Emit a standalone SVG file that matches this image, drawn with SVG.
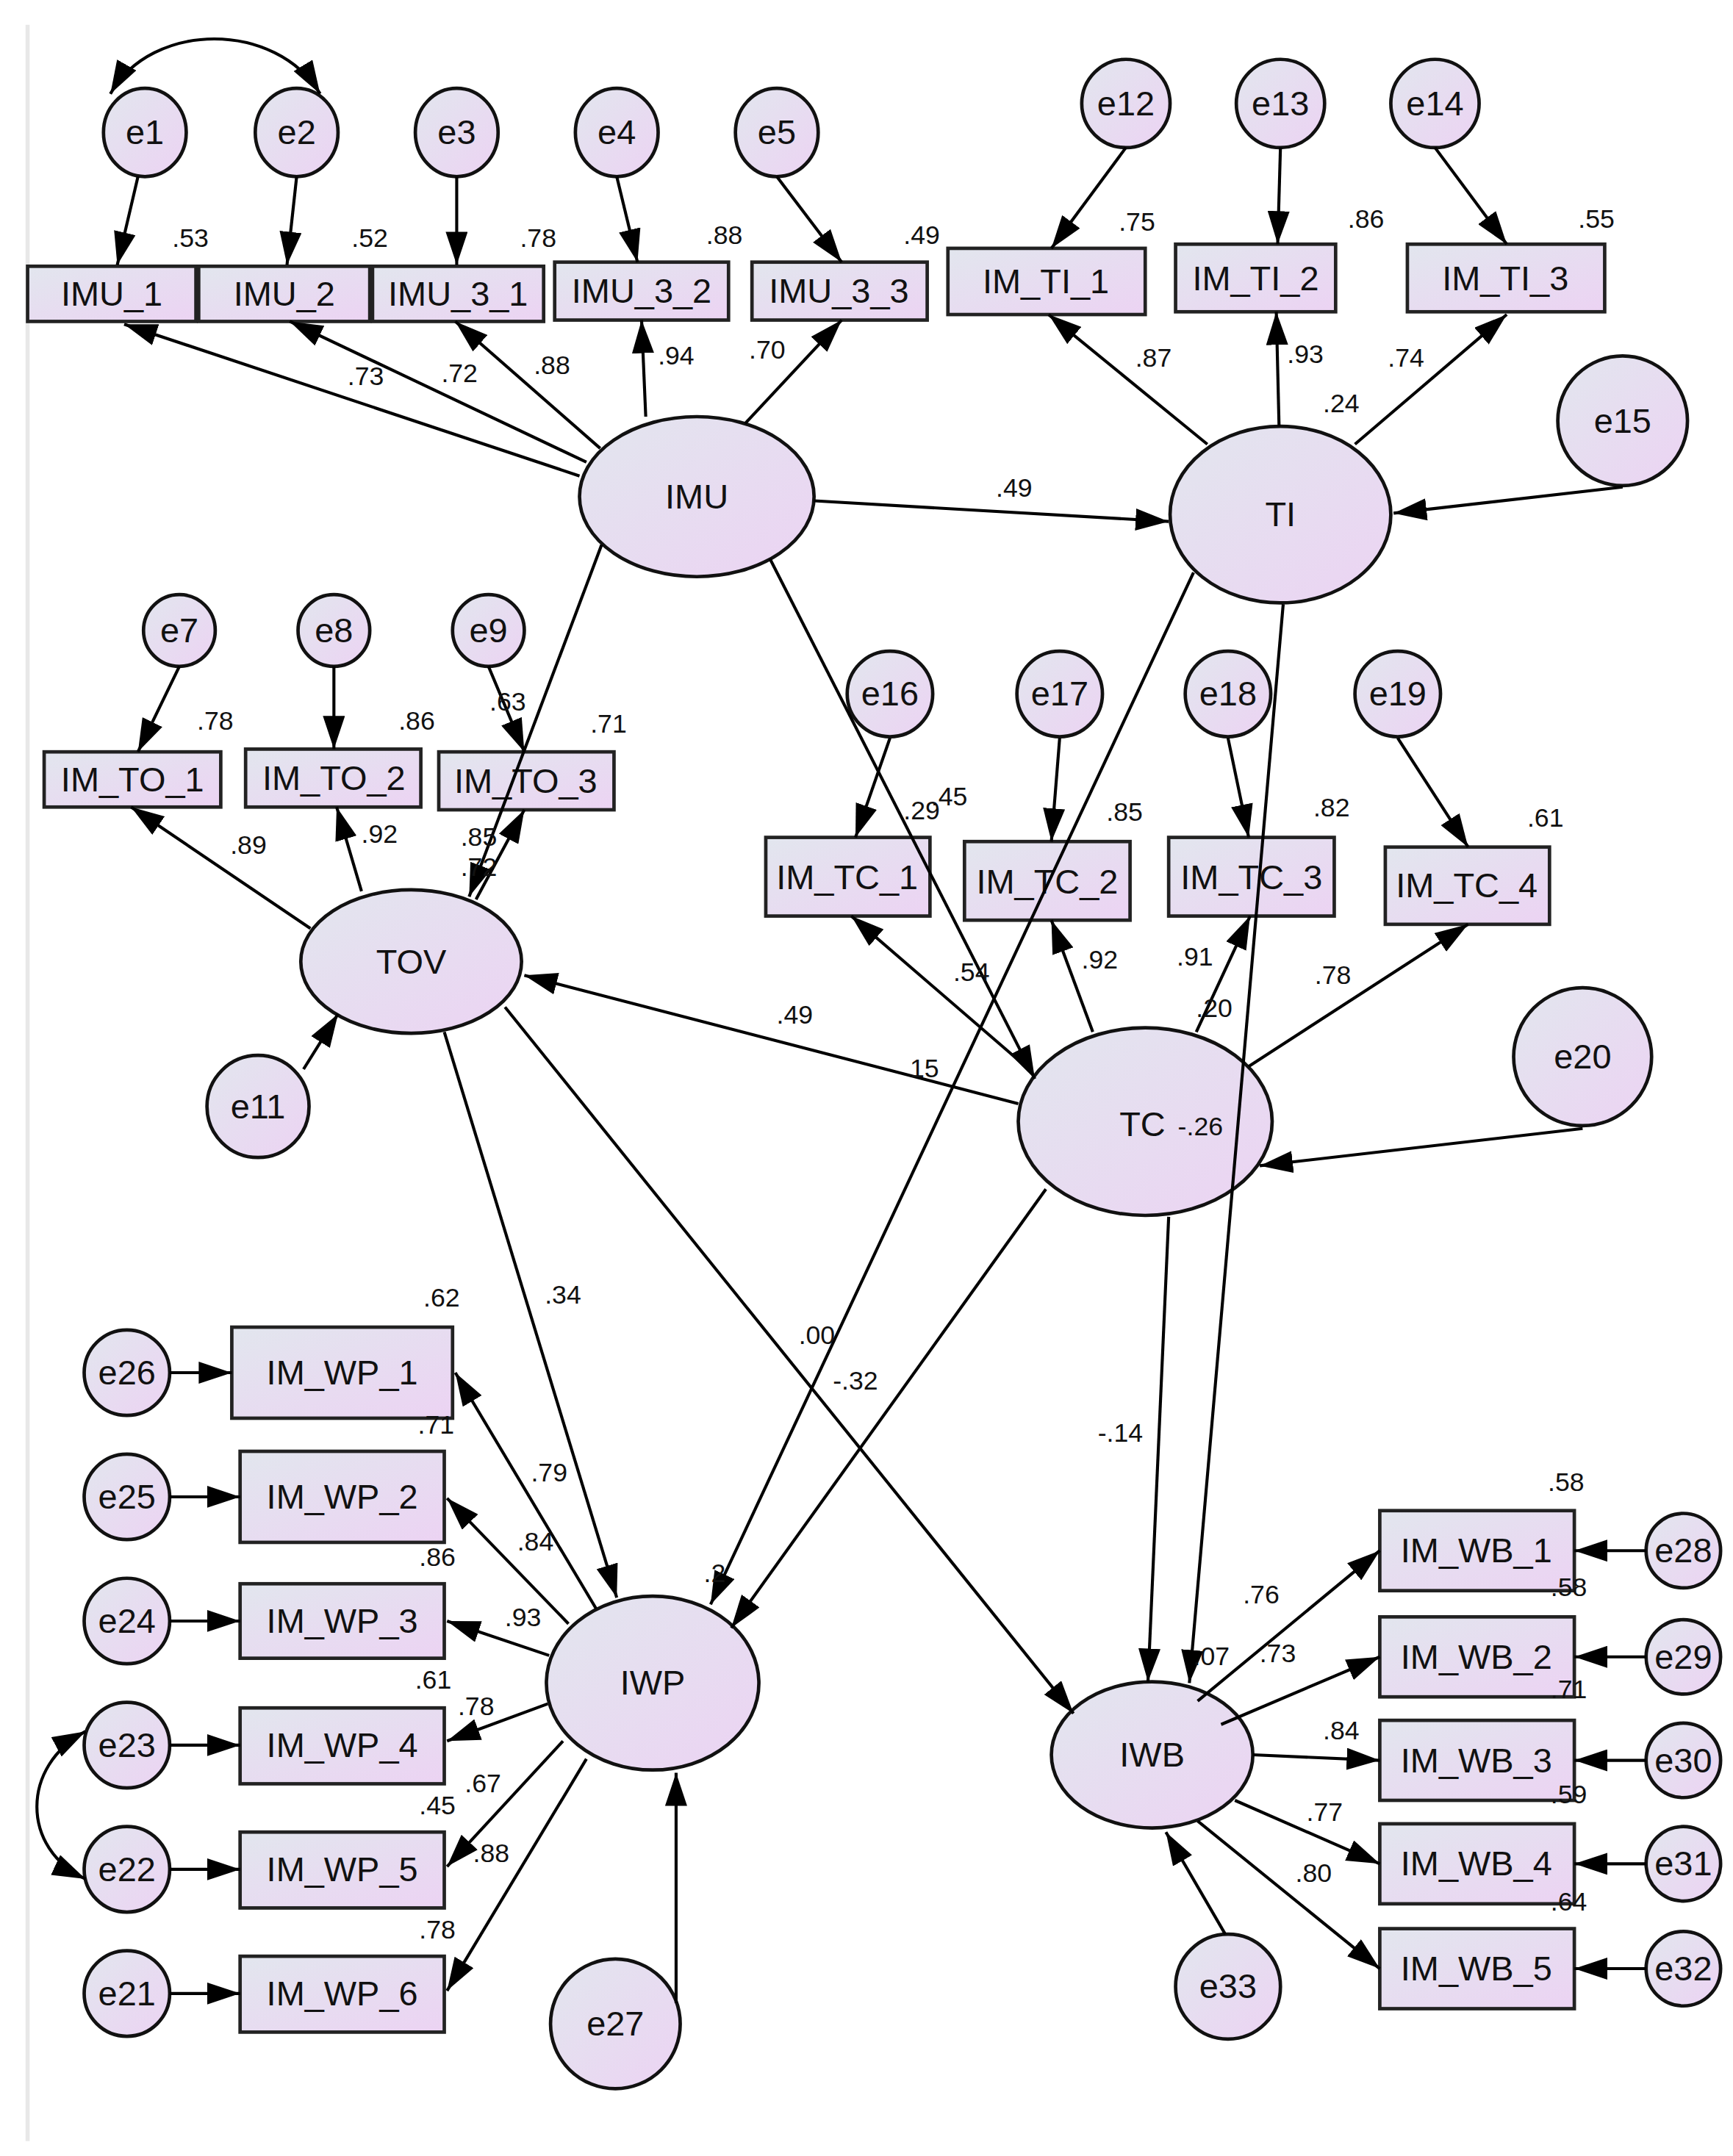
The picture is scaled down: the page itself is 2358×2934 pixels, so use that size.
<svg xmlns="http://www.w3.org/2000/svg" width="2358" height="2934" viewBox="0 0 2358 2934">
<defs>
<linearGradient id="g" x1="0" y1="0" x2="1" y2="1"><stop offset="0" stop-color="#e2e6ee"/><stop offset="1" stop-color="#ecd3f3"/></linearGradient>
<marker id="a" viewBox="0 0 24 16" refX="24" refY="8" markerWidth="24" markerHeight="16" markerUnits="userSpaceOnUse" orient="auto-start-reverse"><path d="M0,0 L24,8 L0,16 z" fill="#000"/></marker>
<style>
.n{fill:url(#g);stroke:#111;stroke-width:2.5}
.b{fill:url(#g);stroke:#222;stroke-width:2.5}
.t{font-family:"Liberation Sans",Arial,sans-serif;font-size:25px;fill:#111;text-anchor:middle;dominant-baseline:central}
.v{font-family:"Liberation Sans",Arial,sans-serif;font-size:19px;fill:#111;text-anchor:middle}
#c path,#c line{stroke:#000;stroke-width:2.2;fill:none;marker-end:url(#a)}
</style>
</defs>
<rect width="2358" height="2934" fill="#fff"/>
<g transform="scale(1.8774)">
<line x1="20" y1="18" x2="20" y2="1552" stroke="#e8e8e8" stroke-width="3"/>
<g id="e1"><ellipse class="n" cx="105" cy="96" rx="30" ry="32"/><text class="t" x="105" y="96">e1</text></g>
<g id="e2"><ellipse class="n" cx="215" cy="96" rx="30" ry="32"/><text class="t" x="215" y="96">e2</text></g>
<g id="e3"><ellipse class="n" cx="331" cy="96" rx="30" ry="32"/><text class="t" x="331" y="96">e3</text></g>
<g id="e4"><ellipse class="n" cx="447" cy="96" rx="30" ry="32"/><text class="t" x="447" y="96">e4</text></g>
<g id="e5"><ellipse class="n" cx="563" cy="96" rx="30" ry="32"/><text class="t" x="563" y="96">e5</text></g>
<g id="IMU_1"><rect class="b" x="20" y="193" width="122" height="40"/><text class="t" x="81" y="213">IMU_1</text></g>
<g id="IMU_2"><rect class="b" x="144" y="193" width="124" height="40"/><text class="t" x="206" y="213">IMU_2</text></g>
<g id="IMU_3_1"><rect class="b" x="270" y="193" width="124" height="40"/><text class="t" x="332" y="213">IMU_3_1</text></g>
<g id="IMU_3_2"><rect class="b" x="402" y="190" width="126" height="42"/><text class="t" x="465" y="211">IMU_3_2</text></g>
<g id="IMU_3_3"><rect class="b" x="545" y="190" width="127" height="42"/><text class="t" x="608" y="211">IMU_3_3</text></g>
<g id="IMU"><ellipse class="n" cx="505" cy="360" rx="85" ry="58"/><text class="t" x="505" y="360">IMU</text></g>
<g id="e12"><circle class="n" cx="816" cy="75" r="32"/><text class="t" x="816" y="75">e12</text></g>
<g id="e13"><circle class="n" cx="928" cy="75" r="32"/><text class="t" x="928" y="75">e13</text></g>
<g id="e14"><circle class="n" cx="1040" cy="75" r="32"/><text class="t" x="1040" y="75">e14</text></g>
<g id="IM_TI_1"><rect class="b" x="687" y="180" width="143" height="48"/><text class="t" x="758" y="204">IM_TI_1</text></g>
<g id="IM_TI_2"><rect class="b" x="852" y="177" width="116" height="49"/><text class="t" x="910" y="202">IM_TI_2</text></g>
<g id="IM_TI_3"><rect class="b" x="1020" y="177" width="143" height="49"/><text class="t" x="1091" y="202">IM_TI_3</text></g>
<g id="TI"><ellipse class="n" cx="928" cy="373" rx="80" ry="64"/><text class="t" x="928" y="373">TI</text></g>
<g id="e15"><circle class="n" cx="1176" cy="305" r="47"/><text class="t" x="1176" y="305">e15</text></g>
<g id="e7"><circle class="n" cx="130" cy="457" r="26"/><text class="t" x="130" y="457">e7</text></g>
<g id="e8"><circle class="n" cx="242" cy="457" r="26"/><text class="t" x="242" y="457">e8</text></g>
<g id="e9"><circle class="n" cx="354" cy="457" r="26"/><text class="t" x="354" y="457">e9</text></g>
<g id="IM_TO_1"><rect class="b" x="32" y="545" width="128" height="40"/><text class="t" x="96" y="565">IM_TO_1</text></g>
<g id="IM_TO_2"><rect class="b" x="178" y="543" width="127" height="42"/><text class="t" x="242" y="564">IM_TO_2</text></g>
<g id="IM_TO_3"><rect class="b" x="318" y="545" width="127" height="42"/><text class="t" x="381" y="566">IM_TO_3</text></g>
<g id="TOV"><ellipse class="n" cx="298" cy="697" rx="80" ry="52"/><text class="t" x="298" y="697">TOV</text></g>
<g id="e11"><circle class="n" cx="187" cy="802" r="37"/><text class="t" x="187" y="802">e11</text></g>
<g id="e16"><circle class="n" cx="645" cy="503" r="31"/><text class="t" x="645" y="503">e16</text></g>
<g id="e17"><circle class="n" cx="768" cy="503" r="31"/><text class="t" x="768" y="503">e17</text></g>
<g id="e18"><circle class="n" cx="890" cy="503" r="31"/><text class="t" x="890" y="503">e18</text></g>
<g id="e19"><circle class="n" cx="1013" cy="503" r="31"/><text class="t" x="1013" y="503">e19</text></g>
<g id="IM_TC_1"><rect class="b" x="555" y="607" width="119" height="57"/><text class="t" x="614" y="636">IM_TC_1</text></g>
<g id="IM_TC_2"><rect class="b" x="699" y="610" width="120" height="57"/><text class="t" x="759" y="639">IM_TC_2</text></g>
<g id="IM_TC_3"><rect class="b" x="847" y="607" width="120" height="57"/><text class="t" x="907" y="636">IM_TC_3</text></g>
<g id="IM_TC_4"><rect class="b" x="1004" y="614" width="119" height="56"/><text class="t" x="1063" y="642">IM_TC_4</text></g>
<g id="TC"><ellipse class="n" cx="830" cy="813" rx="92" ry="68"/><text class="t" x="828" y="815">TC</text><text class="v" x="870" y="823">-.26</text></g>
<g id="e20"><circle class="n" cx="1147" cy="766" r="50"/><text class="t" x="1147" y="766">e20</text></g>
<g id="IWP"><ellipse class="n" cx="473" cy="1220" rx="77" ry="63"/><text class="t" x="473" y="1220">IWP</text></g>
<g id="e27"><circle class="n" cx="446" cy="1467" r="47"/><text class="t" x="446" y="1467">e27</text></g>
<g id="IM_WP_1"><rect class="b" x="168" y="962" width="160" height="66"/><text class="t" x="248" y="995">IM_WP_1</text></g>
<g id="IM_WP_2"><rect class="b" x="174" y="1052" width="148" height="66"/><text class="t" x="248" y="1085">IM_WP_2</text></g>
<g id="IM_WP_3"><rect class="b" x="174" y="1148" width="148" height="54"/><text class="t" x="248" y="1175">IM_WP_3</text></g>
<g id="IM_WP_4"><rect class="b" x="174" y="1238" width="148" height="55"/><text class="t" x="248" y="1265">IM_WP_4</text></g>
<g id="IM_WP_5"><rect class="b" x="174" y="1328" width="148" height="55"/><text class="t" x="248" y="1355">IM_WP_5</text></g>
<g id="IM_WP_6"><rect class="b" x="174" y="1418" width="148" height="55"/><text class="t" x="248" y="1445">IM_WP_6</text></g>
<g id="e26"><circle class="n" cx="92" cy="995" r="31"/><text class="t" x="92" y="995">e26</text></g>
<g id="e25"><circle class="n" cx="92" cy="1085" r="31"/><text class="t" x="92" y="1085">e25</text></g>
<g id="e24"><circle class="n" cx="92" cy="1175" r="31"/><text class="t" x="92" y="1175">e24</text></g>
<g id="e23"><circle class="n" cx="92" cy="1265" r="31"/><text class="t" x="92" y="1265">e23</text></g>
<g id="e22"><circle class="n" cx="92" cy="1355" r="31"/><text class="t" x="92" y="1355">e22</text></g>
<g id="e21"><circle class="n" cx="92" cy="1445" r="31"/><text class="t" x="92" y="1445">e21</text></g>
<g id="IWB"><ellipse class="n" cx="835" cy="1272" rx="73" ry="53"/><text class="t" x="835" y="1272">IWB</text></g>
<g id="e33"><circle class="n" cx="890" cy="1440" r="38"/><text class="t" x="890" y="1440">e33</text></g>
<g id="IM_WB_1"><rect class="b" x="1000" y="1095" width="141" height="58"/><text class="t" x="1070" y="1124">IM_WB_1</text></g>
<g id="IM_WB_2"><rect class="b" x="1000" y="1172" width="141" height="58"/><text class="t" x="1070" y="1201">IM_WB_2</text></g>
<g id="IM_WB_3"><rect class="b" x="1000" y="1247" width="141" height="58"/><text class="t" x="1070" y="1276">IM_WB_3</text></g>
<g id="IM_WB_4"><rect class="b" x="1000" y="1322" width="141" height="58"/><text class="t" x="1070" y="1351">IM_WB_4</text></g>
<g id="IM_WB_5"><rect class="b" x="1000" y="1398" width="141" height="58"/><text class="t" x="1070" y="1427">IM_WB_5</text></g>
<g id="e28"><circle class="n" cx="1220" cy="1124" r="27"/><text class="t" x="1220" y="1124">e28</text></g>
<g id="e29"><circle class="n" cx="1220" cy="1201" r="27"/><text class="t" x="1220" y="1201">e29</text></g>
<g id="e30"><circle class="n" cx="1220" cy="1276" r="27"/><text class="t" x="1220" y="1276">e30</text></g>
<g id="e31"><circle class="n" cx="1220" cy="1351" r="27"/><text class="t" x="1220" y="1351">e31</text></g>
<g id="e32"><circle class="n" cx="1220" cy="1427" r="27"/><text class="t" x="1220" y="1427">e32</text></g>
<g id="c">
<path d="M80,68 C110,15 200,15 232,68" marker-start="url(#a)"/>
<line x1="100" y1="128" x2="85" y2="192"/>
<line x1="215" y1="128" x2="208" y2="192"/>
<line x1="331" y1="128" x2="331" y2="192"/>
<line x1="447" y1="128" x2="462" y2="190"/>
<line x1="563" y1="128" x2="610" y2="190"/>
<line x1="420" y1="345" x2="90" y2="235"/>
<line x1="425" y1="335" x2="210" y2="233"/>
<line x1="435" y1="325" x2="330" y2="233"/>
<line x1="468" y1="302" x2="465" y2="232"/>
<line x1="540" y1="307" x2="610" y2="232"/>
<line x1="816" y1="107" x2="762" y2="180"/>
<line x1="928" y1="107" x2="926" y2="177"/>
<line x1="1040" y1="107" x2="1092" y2="177"/>
<line x1="875" y1="322" x2="760" y2="228"/>
<line x1="927" y1="309" x2="925" y2="226"/>
<line x1="982" y1="322" x2="1092" y2="228"/>
<line x1="1176" y1="353" x2="1010" y2="372"/>
<line x1="590" y1="363" x2="847" y2="378"/>
<line x1="130" y1="483" x2="100" y2="545"/>
<line x1="242" y1="483" x2="242" y2="543"/>
<line x1="354" y1="483" x2="380" y2="545"/>
<line x1="225" y1="673" x2="95" y2="585"/>
<line x1="262" y1="646" x2="244" y2="585"/>
<line x1="345" y1="652" x2="380" y2="587"/>
<line x1="436" y1="395" x2="340" y2="650"/>
<line x1="220" y1="775" x2="245" y2="735"/>
<line x1="645" y1="535" x2="620" y2="607"/>
<line x1="768" y1="535" x2="762" y2="610"/>
<line x1="890" y1="535" x2="905" y2="607"/>
<line x1="1013" y1="535" x2="1064" y2="614"/>
<line x1="748" y1="777" x2="617" y2="664"/>
<line x1="792" y1="748" x2="762" y2="667"/>
<line x1="867" y1="748" x2="906" y2="664"/>
<line x1="905" y1="773" x2="1064" y2="670"/>
<line x1="1147" y1="818" x2="913" y2="845"/>
<line x1="738" y1="800" x2="380" y2="707"/>
<line x1="558" y1="405" x2="750" y2="782"/>
<line x1="865" y1="415" x2="515" y2="1163"/>
<line x1="758" y1="862" x2="530" y2="1180"/>
<line x1="930" y1="438" x2="862" y2="1220"/>
<line x1="847" y1="882" x2="832" y2="1219"/>
<line x1="322" y1="748" x2="447" y2="1158"/>
<line x1="366" y1="730" x2="778" y2="1242"/>
<line x1="490" y1="1452" x2="490" y2="1285"/>
<line x1="432" y1="1166" x2="330" y2="995"/>
<line x1="412" y1="1177" x2="324" y2="1086"/>
<line x1="398" y1="1200" x2="324" y2="1175"/>
<line x1="397" y1="1235" x2="324" y2="1262"/>
<line x1="408" y1="1262" x2="324" y2="1353"/>
<line x1="425" y1="1275" x2="324" y2="1443"/>
<line x1="123" y1="995" x2="168" y2="995"/>
<line x1="123" y1="1085" x2="174" y2="1085"/>
<line x1="123" y1="1175" x2="174" y2="1175"/>
<line x1="123" y1="1265" x2="174" y2="1265"/>
<line x1="123" y1="1355" x2="174" y2="1355"/>
<line x1="123" y1="1445" x2="174" y2="1445"/>
<path d="M62,1255 C15,1280 15,1340 62,1362" marker-start="url(#a)"/>
<line x1="868" y1="1233" x2="1000" y2="1124"/>
<line x1="885" y1="1250" x2="1000" y2="1201"/>
<line x1="908" y1="1272" x2="1000" y2="1276"/>
<line x1="895" y1="1305" x2="1000" y2="1351"/>
<line x1="868" y1="1320" x2="1000" y2="1427"/>
<line x1="1193" y1="1124" x2="1141" y2="1124"/>
<line x1="1193" y1="1201" x2="1141" y2="1201"/>
<line x1="1193" y1="1276" x2="1141" y2="1276"/>
<line x1="1193" y1="1351" x2="1141" y2="1351"/>
<line x1="1193" y1="1427" x2="1141" y2="1427"/>
<line x1="888" y1="1402" x2="845" y2="1328"/>
</g>
<g id="labels">
<text class="v" x="138" y="179">.53</text><text class="v" x="268" y="179">.52</text><text class="v" x="390" y="179">.78</text><text class="v" x="525" y="177">.88</text><text class="v" x="668" y="177">.49</text>
<text class="v" x="265" y="279">.73</text><text class="v" x="333" y="277">.72</text><text class="v" x="400" y="271">.88</text><text class="v" x="490" y="264">.94</text><text class="v" x="556" y="260">.70</text>
<text class="v" x="824" y="167">.75</text><text class="v" x="990" y="165">.86</text><text class="v" x="1157" y="165">.55</text>
<text class="v" x="836" y="266">.87</text><text class="v" x="946" y="263">.93</text><text class="v" x="1019" y="266">.74</text><text class="v" x="972" y="299">.24</text>
<text class="v" x="735" y="360">.49</text>
<text class="v" x="156" y="529">.78</text><text class="v" x="302" y="529">.86</text><text class="v" x="368" y="515">.63</text><text class="v" x="441" y="531">.71</text>
<text class="v" x="180" y="619">.89</text><text class="v" x="275" y="611">.92</text><text class="v" x="347" y="613">.85</text><text class="v" x="347" y="635">.72</text>
<text class="v" x="668" y="594">.29</text><text class="v" x="688" y="584">.45</text>
<text class="v" x="815" y="595">.85</text><text class="v" x="965" y="592">.82</text><text class="v" x="1120" y="599">.61</text>
<text class="v" x="704" y="711">.54</text><text class="v" x="797" y="702">.92</text><text class="v" x="866" y="700">.91</text><text class="v" x="880" y="737">.20</text><text class="v" x="966" y="713">.78</text>
<text class="v" x="576" y="742">.49</text><text class="v" x="670" y="781">15</text>
<text class="v" x="408" y="945">.34</text><text class="v" x="592" y="974">.00</text><text class="v" x="620" y="1007">-.32</text><text class="v" x="812" y="1045">-.14</text>
<text class="v" x="518" y="1147">.2</text><text class="v" x="878" y="1207">.07</text>
<text class="v" x="320" y="947">.62</text><text class="v" x="316" y="1039">.71</text><text class="v" x="317" y="1135">.86</text><text class="v" x="314" y="1224">.61</text><text class="v" x="317" y="1315">.45</text><text class="v" x="317" y="1405">.78</text>
<text class="v" x="398" y="1074">.79</text><text class="v" x="388" y="1124">.84</text><text class="v" x="379" y="1179">.93</text><text class="v" x="345" y="1243">.78</text><text class="v" x="350" y="1299">.67</text><text class="v" x="356" y="1350">.88</text>
<text class="v" x="1135" y="1081">.58</text><text class="v" x="1137" y="1157">.58</text><text class="v" x="1137" y="1231">.71</text><text class="v" x="1137" y="1307">.59</text><text class="v" x="1137" y="1385">.64</text>
<text class="v" x="914" y="1162">.76</text><text class="v" x="926" y="1205">.73</text><text class="v" x="972" y="1261">.84</text><text class="v" x="960" y="1320">.77</text><text class="v" x="952" y="1364">.80</text>
</g>
</g>
</svg>
